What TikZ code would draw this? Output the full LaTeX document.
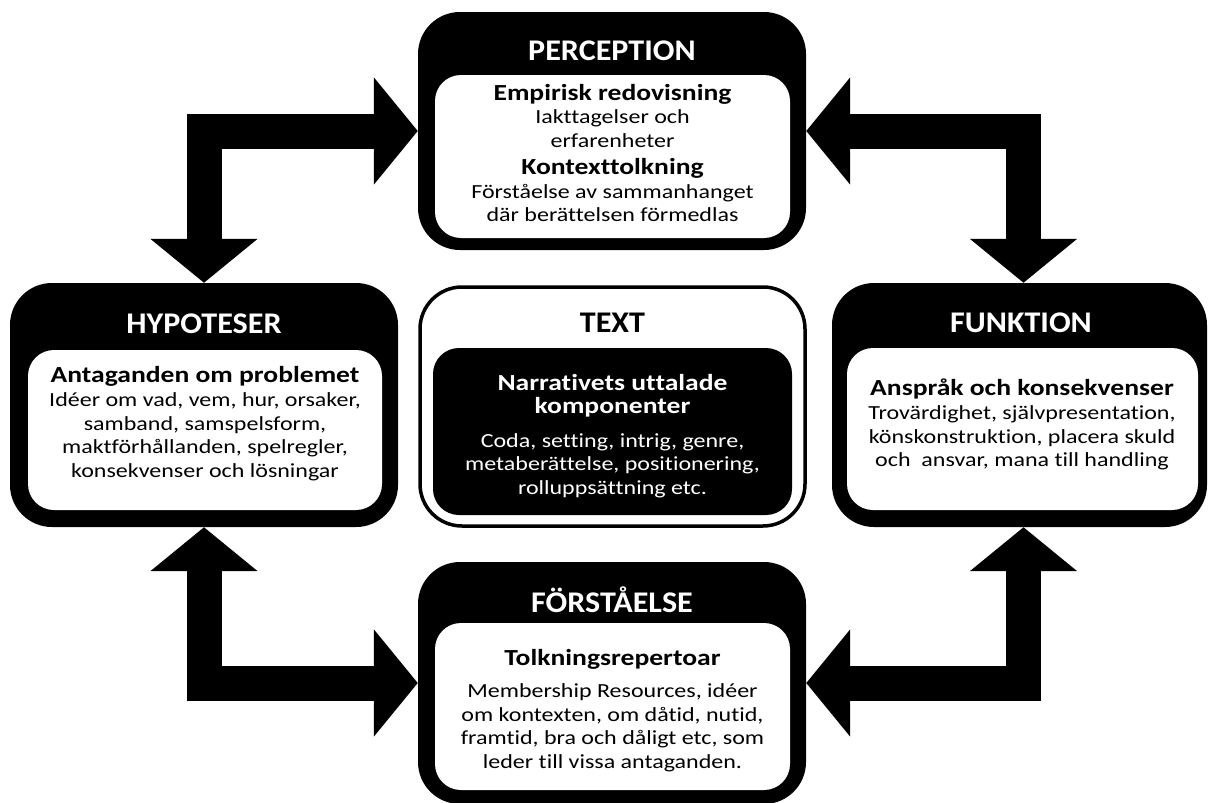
\documentclass[tikz,border=0pt]{standalone}
\usepackage{fontspec}
\setmainfont[Ligatures=CommonOff]{Carlito}
\newfontfamily\bodyf[FakeStretch=1.2,Ligatures=CommonOff]{Carlito}
\newfontfamily\titlef[FakeStretch=1.07,Ligatures=CommonOff]{Carlito}
\usetikzlibrary{arrows.meta}
\newcommand{\hd}[1]{{\bfseries\fontsize{23}{23.5}\selectfont #1}}
\begin{document}
\begin{tikzpicture}[x=1pt,y=-1pt,
  outerbox/.style={fill=black, draw=none, rounded corners=42pt, inner sep=0pt},
  innerbox/.style={fill=white, draw=none, rounded corners=26pt, inner sep=0pt},
  titletext/.style={font=\titlef\bfseries\fontsize{30}{34}\selectfont, text=white, anchor=base, inner sep=0pt},
  bodytext/.style={font=\bodyf\fontsize{20}{23.5}\selectfont, anchor=base, inner sep=0pt, align=center},
  bigarrow/.style={line width=35pt, line join=miter,
    {Triangle[width=105pt,length=44pt]}-{Triangle[width=105pt,length=44pt]}}]
\useasboundingbox (0,0) rectangle (1208,803);
% PERCEPTION
\node[outerbox, minimum width=388pt, minimum height=238pt] (perc) at (612,131) {};
\node[innerbox, minimum width=355pt, minimum height=163pt] (percin) at (612.5,156.5) {};
\node[titletext] (perct) at (612,60) {PERCEPTION};
\node[bodytext] (percb) at (612.5,100) {\begin{tabular}[t]{@{}c@{}}\hd{Empirisk redovisning}\\ Iakttagelser och\\ erfarenheter\\[4pt] \hd{Kontexttolkning}\\ Förståelse av sammanhanget\\ där berättelsen förmedlas\end{tabular}};
% HYPOTESER
\node[outerbox, minimum width=388pt, minimum height=244pt] (hyp) at (204,405) {};
\node[innerbox, minimum width=354pt, minimum height=160pt] (hypin) at (205,430) {};
\node[titletext] (hypt) at (204,333) {HYPOTESER};
\node[bodytext] (hypb) at (205,382) {\begin{tabular}[t]{@{}c@{}}\hd{Antaganden om problemet}\\[1pt] Idéer om vad, vem, hur, orsaker,\\ samband, samspelsform,\\ maktförhållanden, spelregler,\\ konsekvenser och lösningar\end{tabular}};
% FUNKTION
\node[outerbox, minimum width=375pt, minimum height=244pt] (funk) at (1019.5,405) {};
\node[innerbox, minimum width=351pt, minimum height=162pt] (funkin) at (1022.5,429) {};
\node[titletext] (funkt) at (1021,332) {FUNKTION};
\node[bodytext] (funkb) at (1022,395) {\begin{tabular}[t]{@{}c@{}}\hd{Anspråk och konsekvenser}\\[1pt] Trovärdighet, självpresentation,\\ könskonstruktion, placera skuld\\ och\ \ ansvar, mana till handling\end{tabular}};
% TEXT
\node[fill=white, draw=black, line width=3.5pt, rounded corners=42pt, inner sep=0pt, minimum width=385pt, minimum height=239pt] (text) at (612.5,406.5) {};
\node[fill=black, draw=none, rounded corners=26pt, inner sep=0pt, minimum width=359pt, minimum height=167pt] (textin) at (612.5,431.5) {};
\node[titletext, text=black] (textt) at (612.5,332) {TEXT};
\node[bodytext, text=white] (textb) at (612.5,390) {\begin{tabular}[t]{@{}c@{}}\hd{Narrativets uttalade}\\ \hd{komponenter}\\[10pt] Coda, setting, intrig, genre,\\ metaberättelse, positionering,\\ rolluppsättning etc.\end{tabular}};
% FÖRSTÅELSE
\node[outerbox, minimum width=388pt, minimum height=242pt] (forst) at (612,683) {};
\node[innerbox, minimum width=355pt, minimum height=167pt] (forstin) at (612.5,706.5) {};
\node[titletext] (forstt) at (612,612) {FÖRSTÅELSE};
\node[bodytext] (forstb) at (612.5,665) {\begin{tabular}[t]{@{}c@{}}\hd{Tolkningsrepertoar}\\[9pt] Membership Resources, idéer\\ om kontexten, om dåtid, nutid,\\ framtid, bra och dåligt etc, som\\ leder till vissa antaganden.\end{tabular}};
% arrows
\draw[bigarrow] (hyp.north) |- (perc.west);
\draw[bigarrow] (perc.east) -| ([xshift=4pt]funk.north);
\draw[bigarrow] (hyp.south) |- (forst.west);
\draw[bigarrow] ([xshift=4pt]funk.south) |- (forst.east);
\end{tikzpicture}
\end{document}
